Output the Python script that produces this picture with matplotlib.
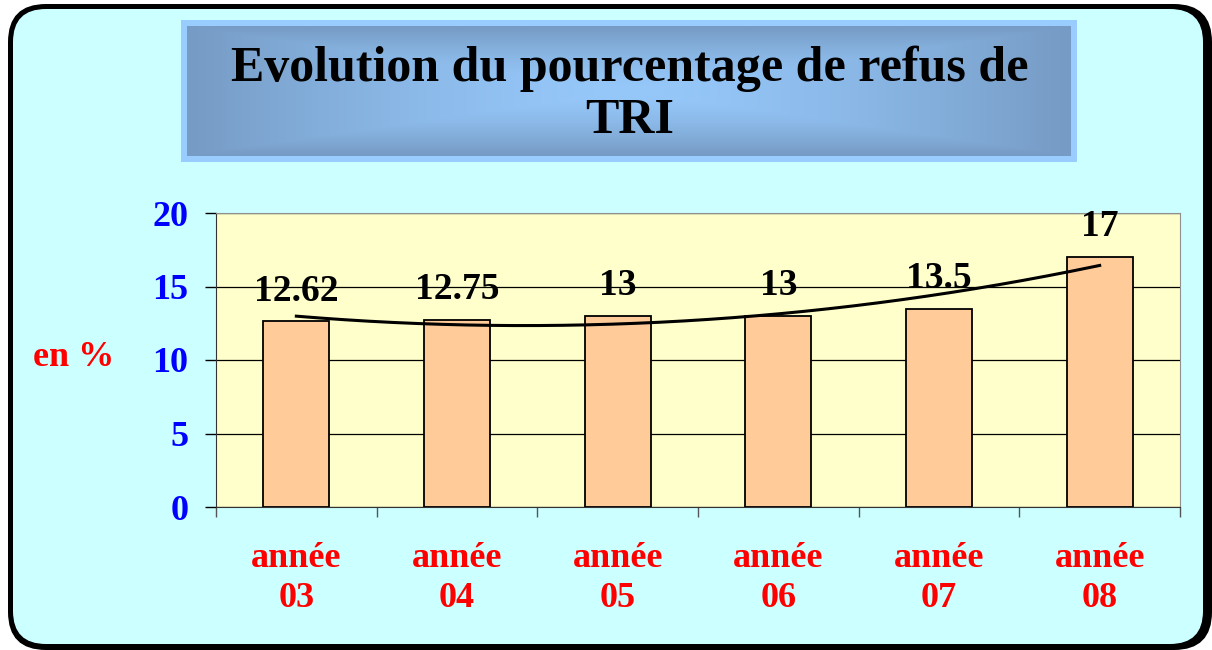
import numpy as np
import matplotlib.pyplot as plt
from matplotlib.patches import FancyBboxPatch, Rectangle

annees = ['année\n03', 'année\n04', 'année\n05', 'année\n06', 'année\n07', 'année\n08']
refus = [12.62, 12.75, 13, 13, 13.5, 17]
etiquettes = ['12.62', '12.75', '13', '13', '13.5', '17']
titre = 'Evolution du pourcentage de refus de\nTRI'

W, H = 1212, 650
serif = 'Liberation Serif'

fig = plt.figure(figsize=(W / 100, H / 100), dpi=100)

# fond en pixels
bg = fig.add_axes([0, 0, 1, 1], zorder=0)
bg.axis('off')

bg.add_patch(FancyBboxPatch((8, 4), 1204, 646, boxstyle='round,pad=0,rounding_size=38',
                            fc='black', ec='none', zorder=1))
bg.add_patch(FancyBboxPatch((13, 9), 1190, 635, boxstyle='round,pad=0,rounding_size=33',
                            fc='#CCFFFF', ec='none', zorder=1))

# cadre du titre avec degrade
bg.add_patch(Rectangle((181, 20), 896, 142, fc='#99CCFF', ec='none', zorder=2))
gx = np.linspace(-1, 1, 300)
gy = np.linspace(-1, 1, 80)
X, Y = np.meshgrid(gx, gy)
t = np.maximum(np.abs(X) ** 1.5, np.abs(Y) ** 1.5)
c0 = np.array([150, 200, 250]) / 255
c1 = np.array([118, 155, 196]) / 255
img = c0[None, None, :] * (1 - t[..., None]) + c1[None, None, :] * t[..., None]
bg.imshow(img, extent=(187, 1071, 156, 26), aspect='auto', interpolation='bilinear', zorder=3)
bg.set_xlim(0, W)
bg.set_ylim(H, 0)

fig.text(630 / W, 1 - 95 / H, titre, ha='center', va='center', fontsize=36,
         fontweight='bold', family=serif, linespacing=1.18, color='black')

fig.text(74 / W, 1 - 358 / H, 'en %', ha='center', va='center', fontsize=26,
         fontweight='bold', family=serif, color='red')

# graphique
ax = fig.add_axes([216 / W, 1 - 507 / H, (1180 - 216) / W, (507 - 213) / H], zorder=1)
ax.set_facecolor('#FFFFCC')
x = np.arange(len(refus))
ax.bar(x, refus, width=0.41, color='#FFCC99', edgecolor='black', linewidth=1.3, zorder=3)

# courbe de tendance polynomiale (ordre 2)
coef = np.polyfit(x, refus, 2)
xs = np.linspace(0, len(refus) - 1, 200)
ax.plot(xs, np.polyval(coef, xs), color='black', linewidth=2.2, zorder=4)

for xi, v, lab in zip(x, refus, etiquettes):
    ax.annotate(lab, (xi, v), xytext=(0, 15), textcoords='offset points',
                ha='center', va='baseline', fontsize=27, fontweight='bold',
                family=serif, color='black', zorder=5)

ax.set_xlim(-0.5, len(refus) - 0.5)
ax.set_ylim(0, 20)
ax.set_yticks([0, 5, 10, 15, 20])
ax.yaxis.grid(True, color='black', linewidth=0.9)
ax.set_axisbelow(True)

ax.set_xticks(x)
ax.set_xticklabels(annees, fontsize=26, fontweight='bold', family=serif,
                   color='red', linespacing=1.3)
ax.set_xticks(np.arange(-0.5, len(refus)), minor=True)
ax.tick_params(axis='x', which='major', length=0, pad=25)
ax.tick_params(axis='x', which='minor', length=7, width=1, color='#555555')
ax.tick_params(axis='y', length=8, width=1, pad=12, labelsize=26)
for lab in ax.get_yticklabels():
    lab.set_fontweight('bold')
    lab.set_family(serif)
    lab.set_color('#0000FF')

for s in ['top', 'right']:
    ax.spines[s].set_color('#909090')
for s in ['left', 'bottom']:
    ax.spines[s].set_color('#333333')

fig.savefig('out.png', dpi=100)
